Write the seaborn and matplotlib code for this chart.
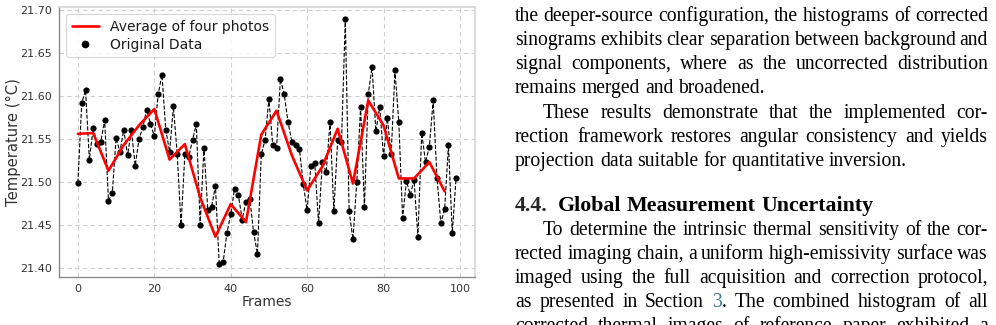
import matplotlib
matplotlib.use("Agg")
import matplotlib.pyplot as plt
from matplotlib.lines import Line2D
import seaborn as sns
import numpy as np
import pandas as pd

# ---------------- data ----------------
frames = list(range(100))
temps = [
    21.499, 21.592, 21.607, 21.526, 21.563, 21.544, 21.547, 21.572, 21.478, 21.487,
    21.551, 21.535, 21.561, 21.531, 21.560, 21.519, 21.550, 21.564, 21.584, 21.568,
    21.553, 21.602, 21.625, 21.561, 21.535, 21.588, 21.532, 21.450, 21.532, 21.529,
    21.549, 21.567, 21.450, 21.540, 21.467, 21.471, 21.495, 21.404, 21.406, 21.440,
    21.462, 21.492, 21.485, 21.456, 21.477, 21.480, 21.441, 21.416, 21.532, 21.549,
    21.597, 21.543, 21.539, 21.620, 21.602, 21.570, 21.547, 21.543, 21.538, 21.497,
    21.467, 21.519, 21.522, 21.452, 21.523, 21.511, 21.570, 21.466, 21.549, 21.546,
    21.690, 21.466, 21.433, 21.500, 21.587, 21.471, 21.602, 21.634, 21.559, 21.587,
    21.530, 21.574, 21.532, 21.630, 21.570, 21.458, 21.501, 21.485, 21.502, 21.436,
    21.557, 21.523, 21.541, 21.595, 21.505, 21.452, 21.468, 21.543, 21.440, 21.505,
]
avg_frames = [0, 4, 8, 12, 16, 20, 24, 28, 32, 36, 40, 44, 48,
              52, 56, 60, 64, 68, 72, 76, 80, 84, 88, 92, 96]
avg_temps = [21.556, 21.557, 21.513, 21.543, 21.566, 21.585, 21.526, 21.544, 21.482,
             21.436, 21.474, 21.453, 21.555, 21.583, 21.531, 21.490, 21.518, 21.562,
             21.498, 21.595, 21.566, 21.504, 21.504, 21.523, 21.489]
x_ticks = [0, 20, 40, 60, 80, 100]
y_ticks = [21.40, 21.45, 21.50, 21.55, 21.60, 21.65, 21.70]

df = pd.DataFrame({"Frame": frames, "Temp": temps})
df_avg = pd.DataFrame({"Frame": avg_frames, "Temp": avg_temps})

# ---------------- figure ----------------
sns.set_theme(style="whitegrid")
plt.rcParams["font.family"] = ["DejaVu Sans"]
W, H = 996, 325
fig = plt.figure(figsize=(W / 100, H / 100), dpi=100)
ax = fig.add_axes([59 / W, 48 / H, 416 / W, 270 / H])

sns.lineplot(data=df, x="Frame", y="Temp", ax=ax, color="black", linestyle="--",
             linewidth=0.8, legend=False, errorbar=None, zorder=2)
sns.scatterplot(data=df, x="Frame", y="Temp", ax=ax, color="black", s=20,
                linewidth=0, zorder=3, legend=False)
sns.lineplot(data=df_avg, x="Frame", y="Temp", ax=ax, color="red", linewidth=1.9,
             legend=False, errorbar=None, zorder=4)

ax.set_xlim(-4.95, 103.95)
ax.set_ylim(21.389, 21.704)
ax.set_xticks(x_ticks)
ax.set_yticks(y_ticks)
ax.set_yticklabels([f"{v:.2f}" for v in y_ticks])
ax.tick_params(axis="both", labelsize=8, colors="0.2", length=0, pad=5)
ax.set_xlabel("Frames", fontsize=10, color="0.2", labelpad=1)
ax.set_ylabel("Temperature (°C)", fontsize=10.6, color="0.2")
ax.yaxis.set_label_coords(-0.091, 0.5)
ax.grid(True, linestyle=(0, (4, 3)), color="#cfcfcf", linewidth=0.8)
for side in ["left", "bottom"]:
    ax.spines[side].set_color("#8a8a8a")
    ax.spines[side].set_linewidth(1.0)
for side in ["top", "right"]:
    ax.spines[side].set_color("#d5d5d5")
    ax.spines[side].set_linewidth(1.2)

h_avg = Line2D([], [], color="red", linewidth=1.9)
h_dat = Line2D([], [], color="black", linestyle="none", marker="o", markersize=4.5)
leg = ax.legend([h_avg, h_dat], ["Average of four photos", "Original Data"],
                loc="upper left", fontsize=10, frameon=True, fancybox=True,
                handlelength=2.0, borderpad=0.4, labelspacing=0.3)
leg.get_frame().set_edgecolor("#d0d0d0")
leg.get_frame().set_linewidth(0.8)
for t in leg.get_texts():
    t.set_color("0.1")

# ---------------- side text (paper body) ----------------
renderer = fig.canvas.get_renderer()
SERIF = "Liberation Serif"


def measure(s, size, weight="normal"):
    t = fig.text(0, 0, s, fontsize=size, family=SERIF, weight=weight)
    w = t.get_window_extent(renderer).width
    t.remove()
    return w


body_size = 10 * 392 / measure("projection data suitable for quantitative inversion.", 10)
head_size = 10 * 315 / measure("Global Measurement Uncertainty", 10, "bold")

X0, X1 = 515, 988
LINK = "#3b7d8a"


def draw_line(words, y, x0=X0, justify=True, size=None, weight="normal"):
    size = size or body_size
    items = []
    for w in words:
        segs = w if isinstance(w, list) else [(w, "black")]
        ws = []
        for s, c in segs:
            t = fig.text(0, 0, s, fontsize=size, family=SERIF, weight=weight,
                         color=c, va="baseline", ha="left")
            ws.append((t, t.get_window_extent(renderer).width))
        items.append(ws)
    widths = [sum(w for _, w in it) for it in items]
    if justify and len(items) > 1:
        gap = (X1 - x0 - sum(widths)) / (len(items) - 1)
    else:
        gap = measure("a b", size, weight) - measure("ab", size, weight)
    x = x0
    for it, wd in zip(items, widths):
        xx = x
        for t, w in it:
            t.set_position((xx / W, 1 - y / H))
            xx += w
        x += wd + gap


IND = 543
lines = [
    ("the deeper-source configuration, the histograms of corrected", 20.7, X0, True),
    ("sinograms exhibits clear separation between background and", 44.9, X0, True),
    ("signal components, where as the uncorrected distribution", 69.1, X0, True),
    ("remains merged and broadened.", 93.3, X0, False),
    ("These results demonstrate that the implemented cor-", 117.5, IND, True),
    ("rection framework restores angular consistency and yields", 141.7, X0, True),
    ("projection data suitable for quantitative inversion.", 165.9, X0, False),
    ("To determine the intrinsic thermal sensitivity of the cor-", 235.0, IND, True),
    ("rected imaging chain, a uniform high-emissivity surface was", 258.9, X0, True),
    ("imaged using the full acquisition and correction protocol,", 282.8, X0, True),
    (None, 306.7, X0, True),
    ("corrected thermal images of reference paper exhibited a", 330.6, X0, True),
]
for text, y, x0, just in lines:
    if text is None:
        words = ["as", "presented", "in", "Section", [("3", LINK), (".", "black")],
                 "The", "combined", "histogram", "of", "all"]
    else:
        words = text.split(" ")
    draw_line(words, y, x0=x0, justify=just)

# heading
fig.text(X0 / W, 1 - 210.7 / H, "4.4.", fontsize=head_size, family=SERIF,
         weight="bold", va="baseline", ha="left")
draw_line(["Global", "Measurement", "Uncertainty"], 210.7, x0=558, justify=False,
          size=head_size, weight="bold")

fig.savefig("out.png", dpi=100)
